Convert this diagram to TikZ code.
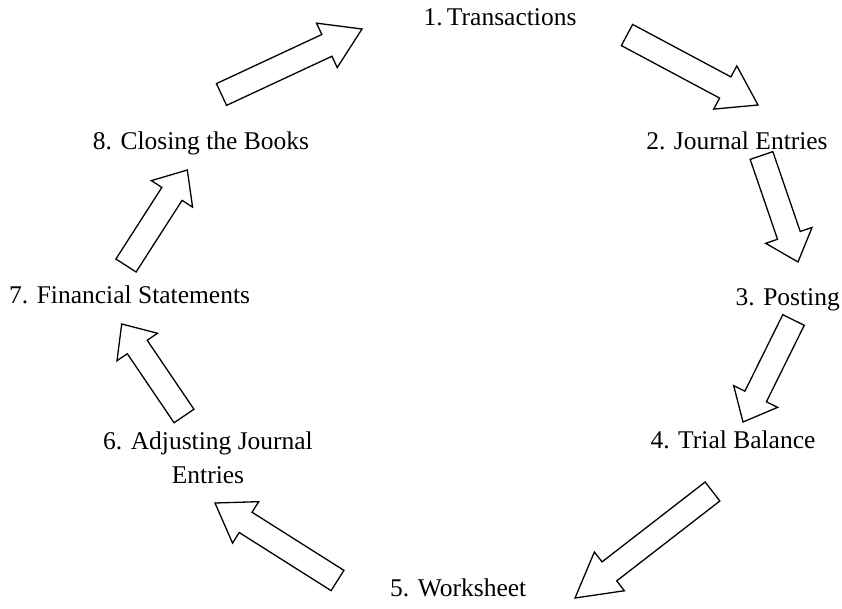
\documentclass[tikz,border=0pt]{standalone}
\usepackage{fontspec}
\setmainfont{Liberation Serif}
\usetikzlibrary{calc}
\tikzset{
  lbl/.style={inner sep=0pt, font=\fontsize{25.5}{34}\selectfont, text=black},
  blockarrow/.style={draw=black, fill=white, line width=1.3pt, line join=miter}
}
\newcommand{\blockarr}[2]{%
  \draw[blockarrow]
    ($(#1)!12pt!90:(#2)$) --
    ($($(#1)!0.75!(#2)$)!12pt!90:(#2)$) --
    ($($(#1)!0.75!(#2)$)!24.5pt!90:(#2)$) --
    (#2) --
    ($($(#1)!0.75!(#2)$)!24.5pt!-90:(#2)$) --
    ($($(#1)!0.75!(#2)$)!12pt!-90:(#2)$) --
    ($(#1)!12pt!-90:(#2)$) -- cycle;}
\begin{document}
\begin{tikzpicture}[x=1pt,y=-1pt]
\useasboundingbox (0,0) rectangle (842,609);
\fill[white] (0,0) rectangle (842,609);
% labels
\node[lbl, anchor=base] (n1) at (500,26) {1.\,Transactions};
\node[lbl, anchor=base] (n2) at (737,150) {2. Journal Entries};
\node[lbl, anchor=base east] (n3) at (840,305) {3. Posting};
\node[lbl, anchor=base] (n4) at (733,448) {4. Trial Balance};
\node[lbl, anchor=base west] (n5) at (390,596) {5. Worksheet};
\node[lbl, anchor=base, align=center] (n6) at (208,483) {6. Adjusting Journal\hspace{0.5em}\\Entries};
\node[lbl, anchor=base west] (n7) at (9,303) {7. Financial Statements};
\node[lbl, anchor=base] (n8) at (201,150) {8. Closing the Books};
% arrow end points
\coordinate (a81t) at (221.5,94.5);  \coordinate (a81h) at (362,29);
\coordinate (a12t) at (627,35);      \coordinate (a12h) at (758,105);
\coordinate (a23t) at (761.5,155.5); \coordinate (a23h) at (798,262);
\coordinate (a34t) at (793.5,320);   \coordinate (a34h) at (743,422);
\coordinate (a45t) at (712.5,491.5); \coordinate (a45h) at (575,598);
\coordinate (a56t) at (337.5,580.5); \coordinate (a56h) at (215,503);
\coordinate (a67t) at (184,416);     \coordinate (a67h) at (121.7,324);
\coordinate (a78t) at (126,265.5);   \coordinate (a78h) at (187.3,170);
\blockarr{a81t}{a81h}
\blockarr{a12t}{a12h}
\blockarr{a23t}{a23h}
\blockarr{a34t}{a34h}
\blockarr{a45t}{a45h}
\blockarr{a56t}{a56h}
\blockarr{a67t}{a67h}
\blockarr{a78t}{a78h}
\end{tikzpicture}
\end{document}
